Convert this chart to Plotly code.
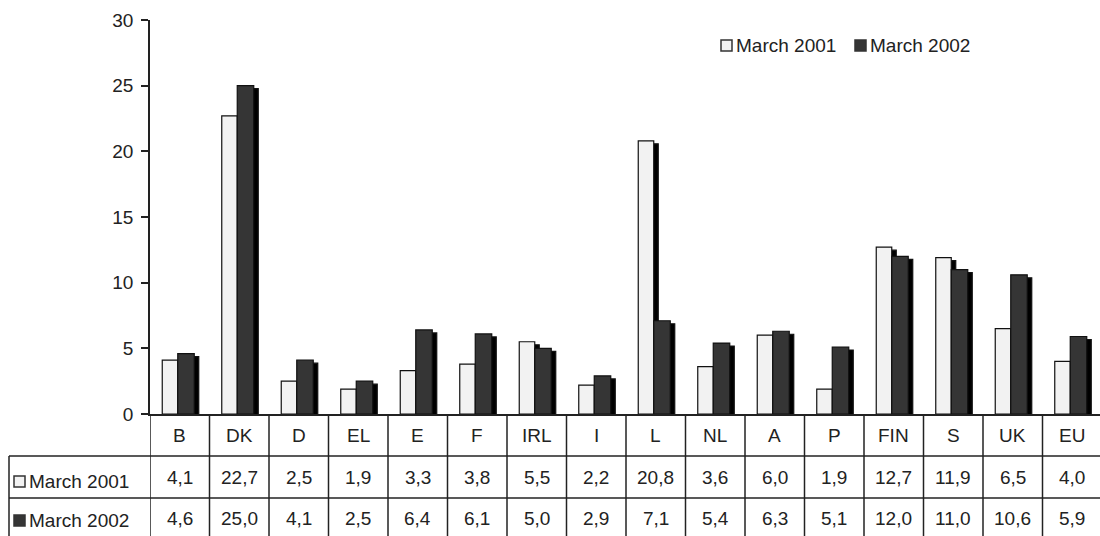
import plotly.graph_objects as go

# Data
countries = ["B", "DK", "D", "EL", "E", "F", "IRL", "I", "L", "NL", "A", "P", "FIN", "S", "UK", "EU"]
march_2001 = [4.1, 22.7, 2.5, 1.9, 3.3, 3.8, 5.5, 2.2, 20.8, 3.6, 6.0, 1.9, 12.7, 11.9, 6.5, 4.0]
march_2002 = [4.6, 25.0, 4.1, 2.5, 6.4, 6.1, 5.0, 2.9, 7.1, 5.4, 6.3, 5.1, 12.0, 11.0, 10.6, 5.9]
series_names = ["March 2001", "March 2002"]
y_ticks = [0, 5, 10, 15, 20, 25, 30]

# Canvas / plot-area geometry (pixels)
W, H = 1100, 536
PL, PT, PB = 150, 20, 414          # plot area left, top, bottom (y = 0)
COL = 59.5                         # width of one category column
PR = W                             # plot area runs to the right edge
YMAX = 30
PX_PER_UNIT = (PB - PT) / YMAX

FONT = "Liberation Sans, Arial, sans-serif"
INK = "#222222"
LIGHT = "#f2f2f2"
DARK = "#353535"
FS = 19


def py(p):
    """pixel row -> paper y"""
    return (PB - p) / (PB - PT)


def pxp(p):
    """pixel column -> paper x"""
    return (p - PL) / (PR - PL)


x_idx = list(range(len(countries)))
x_range = [-0.5, -0.5 + (PR - PL) / COL]

# bar geometry in category units
w_off, w_wid = -17.5 / COL, 15.5 / COL
d_off, d_wid = -2.0 / COL, 16.5 / COL
sh_dx = 4.5 / COL                        # drop-shadow shift right
sh_dy = 3.0 / PX_PER_UNIT                # drop-shadow shift down (in value units)

fig = go.Figure()


def bars(vals, off, wid, fill, yaxis, name):
    return go.Bar(
        x=x_idx, y=vals, offset=off, width=wid, yaxis=yaxis, name=name,
        marker=dict(color=fill, line=dict(color="#111111", width=1.2)),
        showlegend=False, hoverinfo="skip",
    )


# shadows live on the lower layer (y), bars on the overlaid layer (y2)
fig.add_trace(bars(march_2001, w_off + sh_dx, w_wid, "#000000", "y", "shadow 2001"))
fig.add_trace(bars(march_2002, d_off + sh_dx, d_wid, "#000000", "y", "shadow 2002"))
fig.add_trace(bars(march_2001, w_off, w_wid, LIGHT, "y2", series_names[0]))
fig.add_trace(bars(march_2002, d_off, d_wid, DARK, "y2", series_names[1]))

shapes = []
annotations = []
line = dict(color=INK, width=1.5)

# table grid
bottom = 545
for k in range(len(countries) + 1):
    shapes.append(dict(type="line", xref="x", yref="paper", x0=k - 0.5, x1=k - 0.5,
                       y0=py(PB), y1=py(bottom), line=line, layer="above"))
for row_y in (456, 498):
    shapes.append(dict(type="line", xref="paper", yref="paper", x0=pxp(9), x1=pxp(W + 5),
                       y0=py(row_y), y1=py(row_y), line=line))
shapes.append(dict(type="line", xref="paper", yref="paper", x0=pxp(9), x1=pxp(9),
                   y0=py(456), y1=py(bottom), line=line))

# category header row
for i, c in enumerate(countries):
    annotations.append(dict(x=i, xref="x", y=py(435), yref="paper", text=c, showarrow=False,
                            font=dict(family=FONT, size=FS, color=INK),
                            xanchor="center", yanchor="middle"))

# value rows
for row_c, vals in ((477, march_2001), (518, march_2002)):
    for i, v in enumerate(vals):
        annotations.append(dict(x=i, xref="x", y=py(row_c), yref="paper",
                                text=f"{v:.1f}".replace(".", ","), showarrow=False,
                                font=dict(family=FONT, size=FS, color=INK),
                                xanchor="center", yanchor="middle"))


def key(x0, y0, fill, text, size):
    shapes.append(dict(type="rect", xref="paper", yref="paper",
                       x0=pxp(x0), x1=pxp(x0 + 11), y0=py(y0), y1=py(y0 + 11),
                       fillcolor=fill, line=dict(color="#333333", width=1.5)))
    annotations.append(dict(x=pxp(x0 + 13), xref="paper", y=py(y0 + 5.5), yref="paper",
                            text=text, showarrow=False, xanchor="left", yanchor="middle",
                            font=dict(family=FONT, size=size, color=INK)))


# row labels of the table
key(14, 476, LIGHT, series_names[0], FS)
key(14, 515, DARK, series_names[1], FS)
# legend
key(721, 40, LIGHT, series_names[0], FS)
key(855, 40, DARK, series_names[1], FS)

fig.update_layout(
    width=W, height=H,
    margin=dict(l=PL, r=W - PR, t=PT, b=H - PB),
    paper_bgcolor="white", plot_bgcolor="white",
    barmode="overlay",
    showlegend=False,
    xaxis=dict(range=x_range, showticklabels=False, ticks="", showgrid=False, zeroline=False,
               showline=True, linecolor=INK, linewidth=1.5, fixedrange=True),
    # shadow layer: same scale, shifted down by a few pixels
    yaxis=dict(range=[sh_dy, YMAX + sh_dy], visible=False, fixedrange=True),
    # value axis shown on the left
    yaxis2=dict(overlaying="y", side="left", anchor="x",
                range=[0, YMAX], tickvals=y_ticks, ticks="outside", ticklen=7, tickwidth=1.5,
                tickcolor=INK, showline=True, linecolor=INK, linewidth=1.5, showgrid=False,
                zeroline=False, ticklabelstandoff=4,
                tickfont=dict(family=FONT, size=FS, color=INK), fixedrange=True),
    shapes=shapes,
    annotations=annotations,
)

fig.write_html("out.html", config={"displayModeBar": False})
